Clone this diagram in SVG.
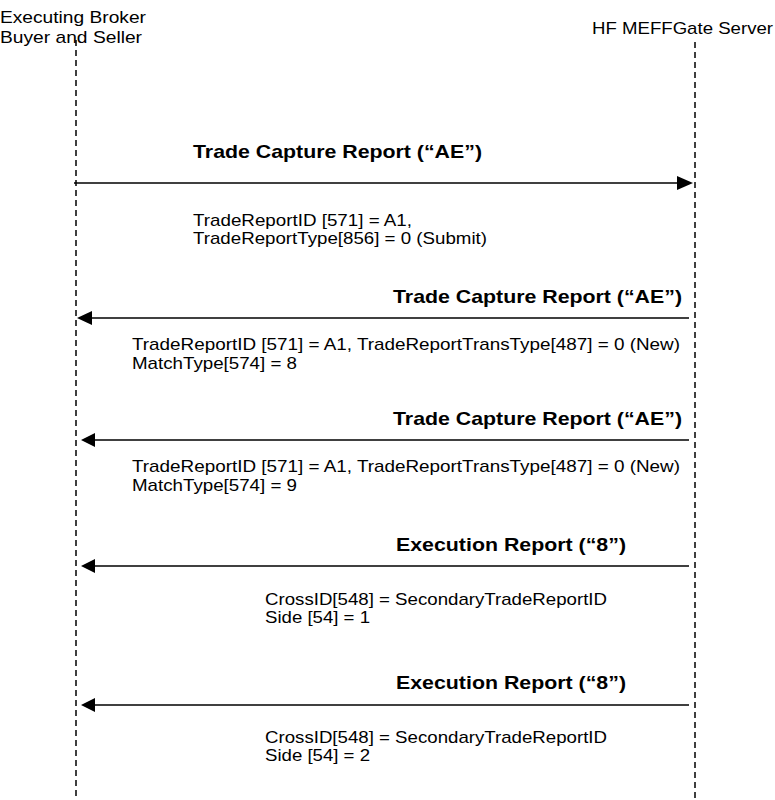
<svg xmlns="http://www.w3.org/2000/svg" width="775" height="800" viewBox="0 0 775 800">
<style>
text{font-family:"Liberation Sans",Arial,sans-serif;fill:#000}
.h{font-size:17px}
.t{font-size:19px;font-weight:bold}
.b{font-size:17px}
.life{stroke:#000;stroke-width:1.5;stroke-dasharray:6,4;fill:none}
.msg{stroke:#000;stroke-width:1.5;fill:none}
</style>
<rect width="775" height="800" fill="#fff"/>
<g id="broker">
<text class="h" x="0" y="23" textLength="146" lengthAdjust="spacingAndGlyphs">Executing Broker</text>
<text class="h" x="0" y="43" textLength="142" lengthAdjust="spacingAndGlyphs">Buyer and Seller</text>
<line class="life" x1="76" y1="40" x2="76" y2="800"/>
</g>
<g id="server">
<text class="h" x="592" y="34" textLength="181" lengthAdjust="spacingAndGlyphs">HF MEFFGate Server</text>
<line class="life" x1="695" y1="42" x2="695" y2="800"/>
</g>
<g id="connectors">
<g id="m1">
<line class="msg" x1="74" y1="183" x2="680" y2="183"/>
<polygon points="693,183 677,176 677,190"/>
<text class="t" x="193" y="158" textLength="289" lengthAdjust="spacingAndGlyphs">Trade Capture Report (“AE”)</text>
<text class="b" x="193" y="226" textLength="219" lengthAdjust="spacingAndGlyphs">TradeReportID [571] = A1,</text>
<text class="b" x="193" y="244" textLength="294" lengthAdjust="spacingAndGlyphs">TradeReportType[856] = 0 (Submit)</text>
</g>
<g id="m2">
<line class="msg" x1="689" y1="318" x2="88" y2="318"/>
<polygon points="77,318 92,311 92,325"/>
<text class="t" x="393" y="303" textLength="289" lengthAdjust="spacingAndGlyphs">Trade Capture Report (“AE”)</text>
<text class="b" x="132" y="350" textLength="548" lengthAdjust="spacingAndGlyphs">TradeReportID [571] = A1, TradeReportTransType[487] = 0 (New)</text>
<text class="b" x="132" y="369" textLength="165" lengthAdjust="spacingAndGlyphs">MatchType[574] = 8</text>
</g>
<g id="m3">
<line class="msg" x1="689" y1="440" x2="92" y2="440"/>
<polygon points="81,440 95,433 95,447"/>
<text class="t" x="393" y="425" textLength="289" lengthAdjust="spacingAndGlyphs">Trade Capture Report (“AE”)</text>
<text class="b" x="132" y="472" textLength="548" lengthAdjust="spacingAndGlyphs">TradeReportID [571] = A1, TradeReportTransType[487] = 0 (New)</text>
<text class="b" x="132" y="491" textLength="165" lengthAdjust="spacingAndGlyphs">MatchType[574] = 9</text>
</g>
<g id="m4">
<line class="msg" x1="689" y1="566" x2="92" y2="566"/>
<polygon points="81,566 95,559 95,573"/>
<text class="t" x="396" y="551" textLength="230" lengthAdjust="spacingAndGlyphs">Execution Report (“8”)</text>
<text class="b" x="265" y="605" textLength="342" lengthAdjust="spacingAndGlyphs">CrossID[548] = SecondaryTradeReportID</text>
<text class="b" x="265" y="623" textLength="105" lengthAdjust="spacingAndGlyphs">Side [54] = 1</text>
</g>
<g id="m5">
<line class="msg" x1="689" y1="705" x2="92" y2="705"/>
<polygon points="81,705 95,698 95,712"/>
<text class="t" x="396" y="689" textLength="230" lengthAdjust="spacingAndGlyphs">Execution Report (“8”)</text>
<text class="b" x="265" y="743" textLength="342" lengthAdjust="spacingAndGlyphs">CrossID[548] = SecondaryTradeReportID</text>
<text class="b" x="265" y="761" textLength="105" lengthAdjust="spacingAndGlyphs">Side [54] = 2</text>
</g>
</g>
</svg>
